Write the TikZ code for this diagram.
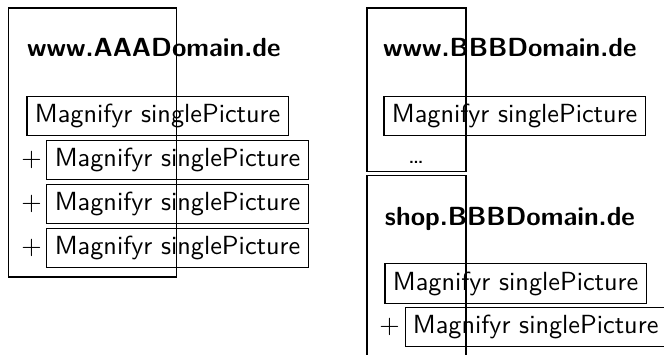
\documentclass[tikz,border=0pt]{standalone}
\renewcommand{\familydefault}{\sfdefault}
\begin{document}
\begin{tikzpicture}[scale=1,inner sep=0pt,outer sep=0pt,thin,
domframe/.style={draw,rectangle,anchor=north west,inner sep=0pt},
picbox/.style={draw,rectangle,anchor=west,inner sep=3pt},
domtitle/.style={anchor=base west,font=\bfseries}]

\useasboundingbox (0,0) rectangle (8.9,-4.758);

% www.AAADomain.de
\draw (0.12,-0.107) node[domframe,minimum width=2.25cm,minimum height=3.606cm] (frameA) {};
\draw (0.362,-0.764) node[domtitle] (titleA) {www.AAADomain.de};
\draw (0.362,-1.555) node[picbox] (picA1) {Magnifyr singlePicture};
\foreach \y/\n in {-2.145/2,-2.734/3,-3.324/4} {
  \draw (0.629,\y) node[picbox] (picA\n) {Magnifyr singlePicture};
  \draw (picA\n.west) node[left=2pt] (plusA\n) {$+$};
}

% www.BBBDomain.de
\draw (4.919,-0.107) node[domframe,minimum width=1.327cm,minimum height=2.198cm] (frameB) {};
\draw (5.134,-0.764) node[domtitle] (titleB) {www.BBBDomain.de};
\draw (5.147,-1.555) node[picbox] (picB1) {Magnifyr singlePicture};
\draw (5.576,-2.185) node[anchor=base] (dotsB) {\dots};

% shop.BBBDomain.de
\draw (4.919,-2.346) node[domframe,minimum width=1.327cm,minimum height=2.6cm] (frameC) {};
\draw (5.16,-3.016) node[domtitle] (titleC) {shop.BBBDomain.de};
\draw (5.16,-3.80) node[picbox] (picC1) {Magnifyr singlePicture};
\draw (5.429,-4.383) node[picbox] (picC2) {Magnifyr singlePicture};
\draw (picC2.west) node[left=2pt] (plusC2) {$+$};
\end{tikzpicture}
\end{document}
